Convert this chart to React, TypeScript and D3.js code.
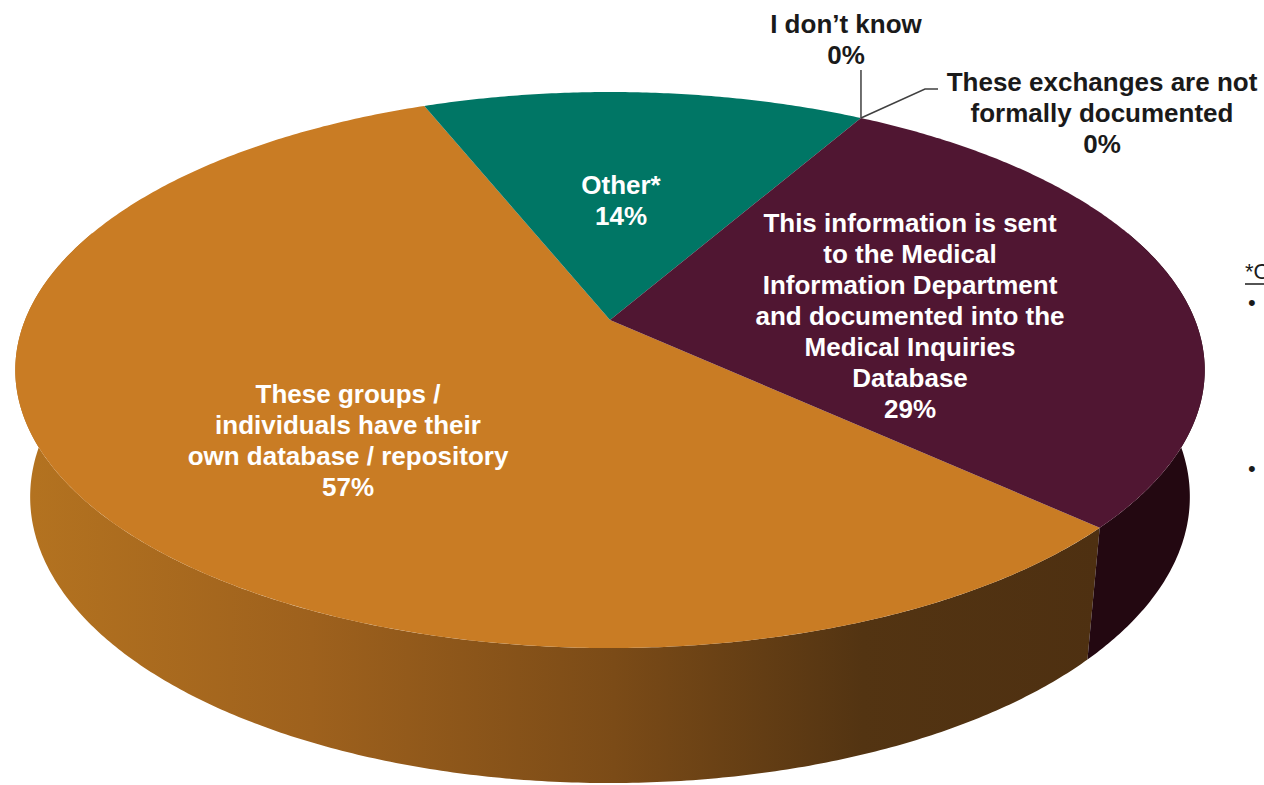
import React from "react";
import * as d3 from "d3";

const categories = [
  "These groups / individuals have their own database / repository",
  "Other*",
  "I don’t know",
  "These exchanges are not formally documented",
  "This information is sent to the Medical Information Department and documented into the Medical Inquiries Database",
];
const values = [57.1, 14.3, 0, 0, 28.6];
const percentLabels = ["57%", "14%", "0%", "0%", "29%"];
const topColors = ["#C97C24", "#007665", "#444444", "#444444", "#501632"];

const W = 1264;
const H = 785;
const CX = 610;
const CY = 320;
const A = 585;
const B = 269;
const K = 0.18;
const DEPTH = 125;
const BOTTOM_SCALE = 0.975;
const START_DEG = 132.7;

function proj(phi: number, bottom: boolean): [number, number] {
  const c = Math.sin(phi);
  const s = -Math.cos(phi);
  const w = 1 - K * s;
  let x = CX + (A * c) / w;
  let y = CY + (B * s) / w;
  if (bottom) {
    x = CX + (x - CX) * BOTTOM_SCALE;
    y = y + DEPTH + 10 * Math.max(0, s);
  }
  return [x, y];
}

function arcPoints(a0: number, a1: number, bottom: boolean): [number, number][] {
  const n = Math.max(2, Math.ceil(((a1 - a0) * 180) / Math.PI / 0.5));
  const pts: [number, number][] = [];
  for (let i = 0; i <= n; i++) pts.push(proj(a0 + ((a1 - a0) * i) / n, bottom));
  return pts;
}

const line = d3.line();

export default function App() {
  const pie = d3
    .pie<number>()
    .sort(null)
    .value((d) => d)
    .startAngle((START_DEG * Math.PI) / 180)
    .endAngle((START_DEG * Math.PI) / 180 + 2 * Math.PI);
  const arcs = pie(values);

  const rad = (d: number) => (d * Math.PI) / 180;
  const frontRanges = [
    [rad(70), rad(290)],
    [rad(430), rad(650)],
  ];

  const sides: { d: string; fill: string }[] = [];
  arcs.forEach((a, i) => {
    if (a.endAngle - a.startAngle <= 0) return;
    frontRanges.forEach(([f0, f1]) => {
      const s0 = Math.max(a.startAngle, f0);
      const s1 = Math.min(a.endAngle, f1);
      if (s1 <= s0) return;
      const top = arcPoints(s0, s1, false);
      const bot = arcPoints(s0, s1, true).reverse();
      const d = line([...top, ...bot])! + "Z";
      sides.push({ d, fill: i === 0 ? "url(#orangeSide)" : i === 4 ? "#230811" : "#333" });
    });
  });

  const tops = arcs
    .map((a, i) => {
      if (a.endAngle - a.startAngle <= 0) return null;
      const pts = arcPoints(a.startAngle, a.endAngle, false);
      return { d: line([[CX, CY], ...pts])! + "Z", fill: topColors[i] };
    })
    .filter(Boolean) as { d: string; fill: string }[];

  const zeroPoint = proj(arcs[2].startAngle, false);

  const font = "'Liberation Sans', Arial, Helvetica, sans-serif";
  const fs = 26;

  const textBlock = (lines: string[], x: number, y0: number, fill: string, key: string) => (
    <text key={key} x={x} textAnchor="middle" fontFamily={font} fontWeight="bold" fontSize={fs} fill={fill}>
      {lines.map((l, j) => (
        <tspan key={j} x={x} y={y0 + j * 31}>
          {l}
        </tspan>
      ))}
    </text>
  );

  return (
    <svg
      width={W}
      height={H}
      style={{ position: "absolute", left: 0, top: 0, background: "#fff" }}
    >
      <defs>
        <linearGradient id="orangeSide" gradientUnits="userSpaceOnUse" x1={20} y1={0} x2={1100} y2={0}>
          <stop offset="0" stopColor="#B47320" />
          <stop offset="0.27" stopColor="#9E611D" />
          <stop offset="0.55" stopColor="#7B4B17" />
          <stop offset="0.78" stopColor="#533412" />
          <stop offset="1" stopColor="#4E3011" />
        </linearGradient>
      </defs>
      <rect x={0} y={0} width={W} height={H} fill="#fff" />
      {sides.map((s, i) => (
        <path key={"s" + i} d={s.d} fill={s.fill} />
      ))}
      {tops.map((t, i) => (
        <path key={"t" + i} d={t.d} fill={t.fill} />
      ))}

      {/* leader lines */}
      <line x1={zeroPoint[0]} y1={zeroPoint[1]} x2={zeroPoint[0]} y2={70} stroke="#404040" strokeWidth={1.5} />
      <polyline
        points={`${zeroPoint[0]},${zeroPoint[1]} 925,89 938,89`}
        fill="none"
        stroke="#404040"
        strokeWidth={1.5}
      />

      {textBlock(["These groups /", "individuals have their", "own database / repository", percentLabels[0]], 348, 403, "#fff", "l0")}
      {textBlock(["Other*", percentLabels[1]], 621, 194, "#fff", "l1")}
      {textBlock(["I don’t know", percentLabels[2]], 846, 33, "#1a1a1a", "l2")}
      {textBlock(["These exchanges are not", "formally documented", percentLabels[3]], 1102, 91, "#1a1a1a", "l3")}
      {textBlock(
        ["This information is sent", "to the Medical", "Information Department", "and documented into the", "Medical Inquiries", "Database", percentLabels[4]],
        910,
        232,
        "#fff",
        "l4"
      )}

      {/* cropped footnote on the right */}
      <text x={1245} y={279} fontFamily={font} fontSize={22} fill="#1a1a1a">
        *Other
      </text>
      <line x1={1245} y1={284} x2={1264} y2={284} stroke="#1a1a1a" strokeWidth={1.5} />
      <text x={1248} y={310} fontFamily={font} fontSize={22} fill="#1a1a1a">
        •
      </text>
      <text x={1248} y={476} fontFamily={font} fontSize={22} fill="#1a1a1a">
        •
      </text>
    </svg>
  );
}
